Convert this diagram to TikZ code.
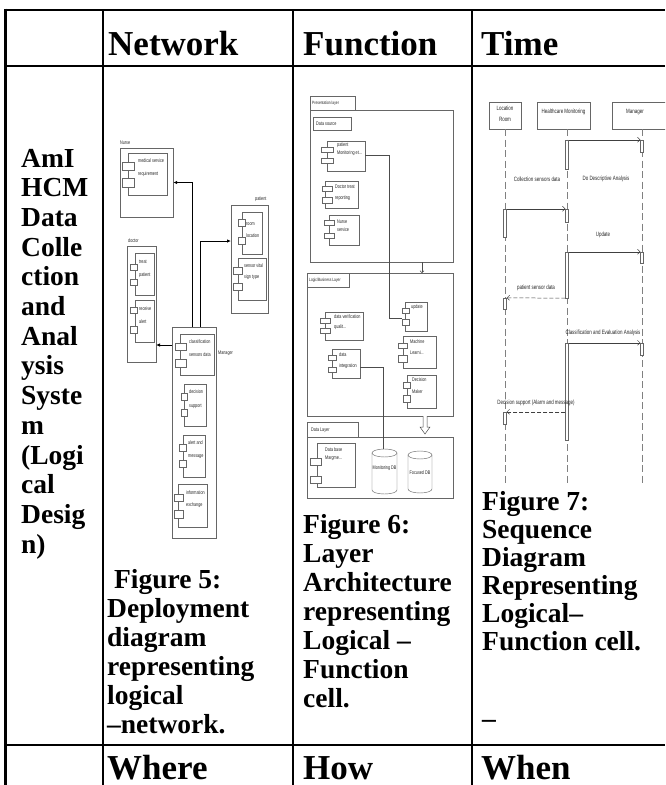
\documentclass[tikz,border=0pt]{standalone}
\usepackage{fontspec}
\setmainfont{Liberation Serif}
\newfontfamily\narrowf[FakeStretch=0.72]{Liberation Sans}
\usetikzlibrary{fit,arrows.meta}
\begin{document}
\begin{tikzpicture}[x=1pt,y=-1pt,
 hdr/.style={anchor=base west,inner sep=0pt,font=\fontsize{35}{35}\selectfont\bfseries},
 captxt/.style={anchor=base west,inner sep=0pt,font=\fontsize{27.5}{27.5}\selectfont\bfseries},
 ubox/.style={draw=black!60,line width=0.45pt,fill=white,inner sep=0pt},
 tn/.style={anchor=west,inner sep=0pt,font=\narrowf\fontsize{5.2}{5.2}\selectfont,text=black!85},
 ts/.style={anchor=center,inner sep=0pt,font=\narrowf\fontsize{6.2}{6.2}\selectfont,text=black!85},
 netarr/.style={line width=0.8pt,-{Latex[length=4pt,width=3.5pt]}},
 fline/.style={draw=black!70,line width=0.5pt},
 life/.style={draw=black!50,line width=0.5pt,dash pattern=on 7pt off 3.5pt},
 act/.style={draw=black!60,line width=0.45pt,fill=white,inner sep=0pt},
 msg/.style={draw=black!75,line width=0.5pt,-{Straight Barb[length=2.5pt,width=5pt]}},
 ret/.style={msg,dash pattern=on 4pt off 2pt},
 gridl/.style={line width=1.8pt},
]
\useasboundingbox (0,0) rectangle (665,785);
\clip (0,0) rectangle (665,785);

% ---------------- Header and footer texts
\node[hdr] (hN) at (108,55) {Network};
\node[hdr] (hF) at (303,55) {Function};
\node[hdr] (hT) at (481,55) {Time};
\node[hdr] (fW) at (107,779) {Where};
\node[hdr] (fH) at (303,779) {How};
\node[hdr] (fT) at (481,779) {When};

% ---------------- Column 1
\foreach \t [count=\i from 0] in {{AmI},{HCM},{Data},{Colle},{ction},{and},{Anal},{ysis},{Syste},{m},{(Logi},{cal},{Desig},{n)}}
  \node[captxt] (c1-\i) at (21,167+29.7*\i) {\t};

% ---------------- Captions
\foreach \t [count=\i from 0] in {{\ Figure 5:},{Deployment},{diagram},{representing},{logical},{--network.}}
  \node[captxt] (c2-\i) at (107,588+29*\i) {\t};
\foreach \t [count=\i from 0] in {{Figure 6:},{Layer},{Architecture},{representing},{Logical --},{Function},{cell.}}
  \node[captxt] (c3-\i) at (303,533+29*\i) {\t};
\foreach \t [count=\i from 0] in {{Figure 7:},{Sequence},{Diagram},{Representing},{Logical--},{Function cell.}}
  \node[captxt] (c4-\i) at (482,510+28*\i) {\t};
\node[captxt] (c4-u) at (482,718) {\_};

% ---------------- Network: deployment diagram
\node[ubox,fit={(120,148)(173,217)}] (nurse) {};
\node[tn] (nurseL) at (120,143) {Nurse};
\node[ubox,fit={(128,153)(167,195)}] (nurseC) {};
\draw[ubox] (122,162) rectangle (134,170) (122,178) rectangle (134,187);
\node[tn] (nurse1) at (138,161) {medical service};
\node[tn] (nurse2) at (138,174) {requirement};

\node[ubox,fit={(231,205)(268,313)}] (pat) {};
\node[tn] (patL) at (255,199) {patient};
\node[ubox,fit={(242,212)(262,254)}] (patC1) {};
\draw[ubox] (238,219) rectangle (245,226) (238,237) rectangle (245,244);
\node[tn] (pat1) at (246,224) {room};
\node[tn] (pat2) at (246,236) {location};
\node[ubox,fit={(238,258)(266,300)}] (patC2) {};
\draw[ubox] (233,267) rectangle (242,274) (233,283) rectangle (242,290);
\node[tn] (pat3) at (244,266) {sensor vital};
\node[tn] (pat4) at (244,277) {sign type};

\node[ubox,fit={(127,246)(156,362)}] (doc) {};
\node[tn] (docL) at (128,241) {doctor};
\node[ubox,fit={(135,253)(154,295)}] (docC1) {};
\draw[ubox] (130,264) rectangle (137,270) (130,279) rectangle (137,285);
\node[tn] (doc1) at (139,262) {treat};
\node[tn] (doc2) at (139,275) {patient};
\node[ubox,fit={(135,300)(154,342)}] (docC2) {};
\draw[ubox] (130,307) rectangle (137,313) (130,326) rectangle (137,333);
\node[tn] (doc3) at (139,309) {receive};
\node[tn] (doc4) at (139,322) {alert};

\node[ubox,fit={(172,327)(216,538)}] (mgr) {};
\node[tn] (mgrL) at (218,353) {Manager};
\node[ubox,fit={(180,334)(214,375)}] (mC1) {};
\draw[ubox] (175,343) rectangle (186,350) (175,359) rectangle (186,367);
\node[tn] (m1a) at (189,342) {classification};
\node[tn] (m1b) at (189,355) {sensors data};
\node[ubox,fit={(184,384)(206,426)}] (mC2) {};
\draw[ubox] (181,393) rectangle (187,400) (181,409) rectangle (187,416);
\node[tn] (m2a) at (189,392) {decision};
\node[tn] (m2b) at (189,406) {support};
\node[ubox,fit={(183,435)(205,477)}] (mC3) {};
\draw[ubox] (179,444) rectangle (186,451) (179,460) rectangle (186,467);
\node[tn] (m3a) at (188,443) {alert and};
\node[tn] (m3b) at (188,457) {message};
\node[ubox,fit={(178,484)(207,527)}] (mC4) {};
\draw[ubox] (174,494) rectangle (183,501) (174,510) rectangle (183,518);
\node[tn] (m4a) at (186,493) {information};
\node[tn] (m4b) at (186,505) {exchange};

\coordinate (mt1) at (192,327);
\coordinate (mt2) at (200,327);
\coordinate (pw) at (231,241);
\coordinate (mw) at (172,345);
\coordinate (de) at (156,345);
\draw[netarr] (mt1) |- (nurse.east);
\draw[netarr] (mt2) |- (pw);
\draw[netarr] (mw) -- (de);

% ---------------- Function: layer architecture
\node[ubox,fit={(310,110)(453,262)}] (pres) {};
\node[ubox,fit={(310,96)(355,110)}] (presTab) {};
\node[tn,font=\narrowf\fontsize{4.6}{4.6}\selectfont] (presL) at (312,103) {Presentation layer};
\node[ubox,fit={(313,117)(351,130)}] (dsrc) {};
\node[tn] (dsrcL) at (316,123.5) {Data source};
\node[ubox,fit={(327,141)(365,171)}] (fpm) {};
\draw[ubox] (321,147) rectangle (333,152) (321,158) rectangle (333,163);
\node[tn] (fpm1) at (337,145) {patient};
\node[tn] (fpm2) at (337,153) {Monitoring et...};
\node[ubox,fit={(325,181)(358,208)}] (fdt) {};
\draw[ubox] (322,186) rectangle (332,191) (322,197) rectangle (332,203);
\node[tn] (fdt1) at (335,187) {Doctor treat};
\node[tn] (fdt2) at (335,198) {reporting};
\node[ubox,fit={(329,215)(359,245)}] (fns) {};
\draw[ubox] (324,220) rectangle (334,225) (324,233) rectangle (334,238);
\node[tn] (fns1) at (337,222) {Nurse};
\node[tn] (fns2) at (337,230) {service};

\node[ubox,fit={(307,273)(453,416)}] (logic) {};
\node[ubox,fit={(307,273)(349,287)}] (logicTab) {};
\node[tn,font=\narrowf\fontsize{4.6}{4.6}\selectfont] (logicL) at (309,280) {Logic/Business Layer};
\node[ubox,fit={(405,302)(427,331)}] (fup) {};
\draw[ubox] (402,308) rectangle (409,313) (402,319) rectangle (409,325);
\node[tn] (fup1) at (411,307) {update};
\node[ubox,fit={(325,312)(363,340)}] (fdv) {};
\draw[ubox] (320,318) rectangle (330,323) (320,328) rectangle (330,333);
\node[tn] (fdv1) at (334,317) {data verification};
\node[tn] (fdv2) at (334,327) {qualit...};
\node[ubox,fit={(403,336)(436,368)}] (fml) {};
\draw[ubox] (398,343) rectangle (407,348) (398,355) rectangle (407,362);
\node[tn] (fml1) at (410,342) {Machine};
\node[tn] (fml2) at (410,353) {Learni...};
\node[ubox,fit={(332,349)(360,378)}] (fdi) {};
\draw[ubox] (328,355) rectangle (336,360) (328,367) rectangle (336,372);
\node[tn] (fdi1) at (339,355) {data};
\node[tn] (fdi2) at (339,366) {integration};
\node[ubox,fit={(407,375)(436,408)}] (fdm) {};
\draw[ubox] (403,382) rectangle (410,388) (403,395) rectangle (410,402);
\node[tn] (fdm1) at (412,380) {Decision};
\node[tn] (fdm2) at (412,392) {Maker};

\node[ubox,fit={(307,437)(453,498)}] (dlay) {};
\node[ubox,fit={(307,422)(358,437)}] (dlayTab) {};
\node[tn] (dlayL) at (311,430) {Data Layer};
\node[ubox,fit={(317,443)(355,487)}] (fdb) {};
\draw[ubox] (310,458) rectangle (321,465) (310,476) rectangle (321,483);
\node[tn] (fdb1) at (325,450) {Data base};
\node[tn] (fdb2) at (325,458) {Margme...};

% cylinders
\draw[ubox] (372,453) -- (372,490) arc[start angle=180,end angle=360,x radius=12.5pt,y radius=4pt] -- (397,453);
\draw[ubox] (384.5,453) ellipse[x radius=12.5pt,y radius=4pt];
\node[tn,anchor=center] (mondb) at (384.5,468) {Monitoring DB};
\draw[ubox] (408,455) -- (408,489) arc[start angle=180,end angle=360,x radius=12pt,y radius=4pt] -- (432,455);
\draw[ubox] (420,455) ellipse[x radius=12pt,y radius=4pt];
\node[tn,anchor=center] (focdb) at (420,473) {Focused DB};

% function connectors
\coordinate (fpmE) at (365,155);
\coordinate (fupW) at (402,318);
\draw[fline] (fpmE) -| (389,318) -- (fupW);
\coordinate (fdiE) at (360,367);
\coordinate (mdbT) at (383,449);
\draw[fline,line width=0.7pt] (fdiE) -| (mdbT);
\coordinate (pb) at (422,262);
\coordinate (lt) at (422,273);
\draw[fline,-{Straight Barb[length=2pt,width=4pt]}] (pb) -- (lt);
\draw[fline,fill=white] (423,416) -- (423,427) -- (420,427) -- (425,434) -- (430,427) -- (427,427) -- (427,416);

% ---------------- Time: sequence diagram
\node[ubox,fit={(489,102)(521,129)}] (sLR) {};
\node[ts] (sLR1) at (505,108) {Location};
\node[ts] (sLR2) at (505,119) {Room};
\node[ubox,fit={(537,102)(590,129)}] (sHM) {};
\node[ts] (sHM1) at (563.5,112) {Healthcare Monitoring};
\node[ubox,fit={(612,102)(670,129)}] (sMG) {};
\node[ts] (sMG1) at (635,112) {Manager};
\coordinate (lrEnd) at (505,485);
\coordinate (hmEnd) at (567,485);
\coordinate (mgEnd) at (642,485);
\draw[life] (sLR.south) -- (lrEnd);
\draw[life] (sHM.south -| hmEnd) -- (hmEnd);
\draw[life] (sMG.south -| mgEnd) -- (mgEnd);

\node[act,fit={(565.5,140)(568.5,169)}] (ah1) {};
\node[act,fit={(640.5,140)(643.5,152)}] (am1) {};
\node[act,fit={(503.5,209)(506.5,237)}] (al1) {};
\node[act,fit={(565.5,209)(568.5,222)}] (ah2) {};
\node[act,fit={(565.5,252)(568.5,298)}] (ah3) {};
\node[act,fit={(640.5,252)(643.5,263)}] (am2) {};
\node[act,fit={(503.5,298)(506.5,309)}] (al2) {};
\node[act,fit={(565.5,343)(568.5,440)}] (ah4) {};
\node[act,fit={(640.5,343)(643.5,355)}] (am3) {};
\node[act,fit={(503.5,412)(506.5,424)}] (al3) {};

\draw[msg] (ah1.north east) -- (am1.north west);
\draw[msg] (al1.north east) -- (ah2.north west);
\draw[msg] (ah3.north east) -- (am2.north west);
\draw[ret] (ah3.south west) -- (al2.north east);
\draw[msg] (ah4.north east) -- (am3.north west);
\draw[ret] (ah4.west |- al3.north) -- (al3.north east);

\node[ts] (sl1) at (537,179) {Collection sensors data};
\node[ts] (sl2) at (606,179) {Do Descriptive Analysis};
\node[ts] (sl3) at (603,235) {Update};
\node[ts] (sl4) at (536,288) {patient sensor data};
\node[ts] (sl5) at (603,333) {Classification and Evaluation Analysis};
\node[ts] (sl6) at (536,403) {Decision support (Alarm and message)};

% ---------------- Table grid
\coordinate (tl) at (5,10);
\coordinate (tr) at (665,10);
\draw[gridl] (tl) -- (tr);
\draw[line width=3pt] (5,8.6) -- (5,785);
\draw[gridl] (103,10) -- (103,785);
\draw[gridl] (293,10) -- (293,785);
\draw[gridl] (472,10) -- (472,785);
\draw[gridl] (5,66) -- (665,66);
\draw[gridl] (5,745) -- (665,745);
\end{tikzpicture}
\end{document}
